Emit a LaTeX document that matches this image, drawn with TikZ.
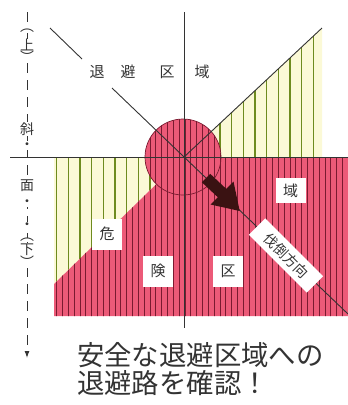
\documentclass[tikz,border=0pt]{standalone}
\usepackage{fontspec}
\newfontfamily\jp{Noto Sans CJK JP}
\usetikzlibrary{arrows.meta}
\definecolor{yel}{HTML}{FBF9D6}
\definecolor{grn}{HTML}{6E8B1E}
\definecolor{redf}{HTML}{EC5A78}
\definecolor{redl}{HTML}{7A1A30}
\definecolor{arr}{HTML}{3A1212}
\definecolor{ink}{HTML}{333333}
\tikzset{
  ln/.style={draw=ink, line width=0.9bp},
  lab/.style={font=\jp\fontsize{15}{15}\selectfont, text=ink, inner sep=0pt},
  boxlab/.style={font=\jp\fontsize{15}{15}\selectfont, text=ink, fill=white, minimum width=30bp, minimum height=31bp, inner sep=0pt},
  side/.style={font=\jp\fontsize{14}{14}\selectfont, text=ink, fill=white, inner sep=0.3bp},
}
\begin{document}
\begin{tikzpicture}[x=1bp,y=-1bp]
\useasboundingbox (0,0) rectangle (348,405);
\coordinate (C) at (184,157);
\coordinate (O) at (183,157);
% yellow regions
\fill[yel] (54,157) -- (184,157) -- (54,284) -- cycle;
\fill[yel] (184,157) -- (322,28) -- (322,157) -- cycle;
\begin{scope}
\clip (54,157) -- (184,157) -- (54,284) -- cycle (184,157) -- (322,28) -- (322,157) -- cycle;
\foreach \i in {0,...,23} \draw[grn, line width=1.2bp] ({56.7+11.667*\i},20) -- ++(0,300);
\end{scope}
% red region
\fill[redf] (184,157) -- (348,157) -- (348,316) -- (54,316) -- (54,284) -- cycle;
\fill[redf] (O) circle[radius=38bp];
\begin{scope}
\clip (184,157) -- (348,157) -- (348,316) -- (54,316) -- (54,284) -- cycle;
\foreach \i in {0,...,50} \draw[redl, line width=0.9bp] ({56.7+5.833*\i},100) -- ++(0,230);
\end{scope}
\begin{scope}
\clip (O) circle[radius=38bp];
\foreach \i in {0,...,50} \draw[redl, line width=0.9bp] ({56.7+5.833*\i},100) -- ++(0,230);
\end{scope}
\draw[redl, line width=0.7bp] (O) circle[radius=38bp];
% axes and diagonals
\coordinate (vt) at (184,12);
\coordinate (vb) at (184,328);
\coordinate (hl) at (10,157);
\coordinate (hr) at (348,157);
\coordinate (d1) at (50,28);
\coordinate (d2) at (82,59);
\coordinate (d3) at (112,88);
\coordinate (d4) at (348,314);
\coordinate (ne) at (322,28);
\draw[ln] (vt) -- (vb);
\draw[ln] (hl) -- (hr);
\draw[ln] (d1) -- (d2);
\draw[ln] (d3) -- (d4);
\draw[ln] (C) -- (ne);
% felling arrow
\fill[arr] (210.2,173.8) -- (226.2,188.8) -- (233.5,181.5) -- (239.7,211) -- (210.5,204.5) -- (217.8,197.2) -- (201.8,182.2) -- cycle;
% labels
\node[lab] (t1) at (97,72) {退};
\node[lab] (t2) at (128,72) {避};
\node[lab] (t3) at (167,72) {区};
\node[lab] (t4) at (202,72) {域};
\node[boxlab, minimum height=25bp] (b1) at (290.5,190.5) {域};
\node[boxlab] (b2) at (107,234) {危};
\node[boxlab] (b3) at (158,271) {険};
\node[boxlab] (b4) at (228,271) {区};
\node[font=\jp\fontsize{14}{14}\selectfont, text=ink, inner sep=0pt, fill=white, rotate=-45, minimum width=82bp, minimum height=23bp] (b5) at (286,255.5) {伐倒方向};
% slope arrow on left
\coordinate (st) at (27,12);
\coordinate (sb) at (27,358);
\draw[ink, line width=1bp, dash pattern=on 10bp off 7bp, -{Latex[length=7bp,width=5bp]}] (st) -- (sb);
\node[side] (s1) at (27,31) {︵};
\node[side] (s2) at (27,45) {上};
\node[side] (s3) at (27,57) {︶};
\node[side] (s4) at (27,129) {斜};
\node[side] (s5) at (27,146) {・};
\node[side] (s6) at (27,186) {面};
\node[side] (s7) at (27,203) {・};
\node[side] (s8) at (27,226) {・};
\node[side] (s9) at (27,240) {︵};
\node[side] (s10) at (27,250) {下};
\node[side] (s11) at (27,262) {︶};
% caption
\node[font=\jp\fontsize{27.5}{28}\selectfont, text=ink, align=left, anchor=north west, inner sep=0pt] (cap) at (77,342) {安全な退避区域への\\退避路を確認！};
\end{tikzpicture}
\end{document}
